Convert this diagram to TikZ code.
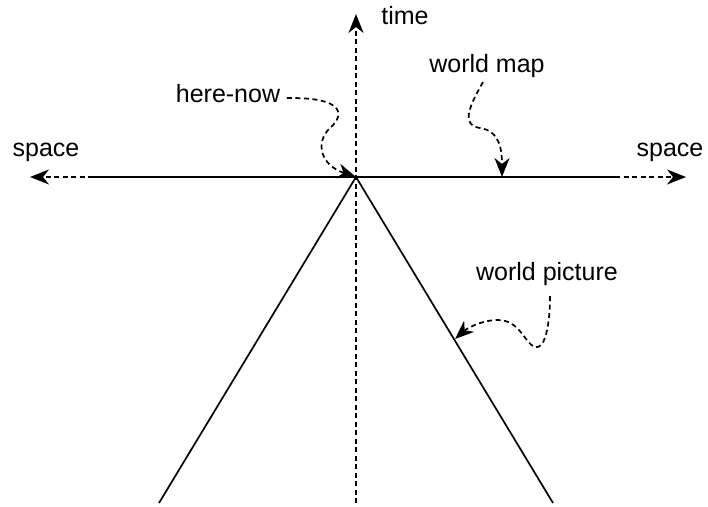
\documentclass[tikz,border=0pt]{standalone}
\usepackage{fontspec}
\setmainfont{Liberation Sans}
\usetikzlibrary{arrows.meta,positioning}

\begin{document}
\begin{tikzpicture}[x=1pt,y=-1pt, line width=1.7pt,
  every node/.style={font=\fontsize{25}{30}\selectfont,inner sep=0pt,anchor=base},
  tip/.style={-{Stealth[length=19pt,width=15pt,inset=6pt]}},
  dashline/.style={dash pattern=on 5pt off 3.5pt}]
\useasboundingbox (0,0) rectangle (708,506);
% axes
\coordinate (apex) at (356,177);
\coordinate (left) at (93,177); \coordinate (right) at (615,177);
\coordinate (leftend) at (30,177); \coordinate (rightend) at (686,177);
\coordinate (bottom) at (356,503); \coordinate (top) at (356,14);
\coordinate (conel) at (159,503); \coordinate (coner) at (553,503);
\node (time) at (405,24) {time};
\node (spacel) at (46,156) {space};
\node (spacer) at (670,156) {space};
\node (herenow) at (228,102) {here-now};
\node (worldmap) at (487,72) {world map};
\node (worldpic) at (547,280) {world picture};
\coordinate (mapdot) at (502,177);
\coordinate (picdot) at (455,339);
\draw (left) -- (right);
\draw[dashline,tip] (left) -- (leftend);
\draw[dashline,tip] (right) -- (rightend);
\draw[dashline,tip] (bottom) -- (top);
\draw (conel) -- (apex) -- (coner);
% pointers
\draw[dashline,tip] ([xshift=6pt,yshift=-5pt]herenow.east) .. controls (345,97) and (345,115) .. (330,128) .. controls (315,142) and (320,165) .. (apex);
\draw[dashline,tip] ([xshift=-4pt,yshift=-4pt]worldmap.south) .. controls (470,105) and (460,125) .. (480,128) .. controls (500,131) and (502,150) .. (mapdot);
\draw[dashline,tip] ([xshift=3pt,yshift=-10pt]worldpic.south) .. controls (550,325) and (545,350) .. (535,347) .. controls (525,344) and (520,320) .. (498,320) .. controls (480,320) and (465,330) .. (picdot);
\end{tikzpicture}
\end{document}
